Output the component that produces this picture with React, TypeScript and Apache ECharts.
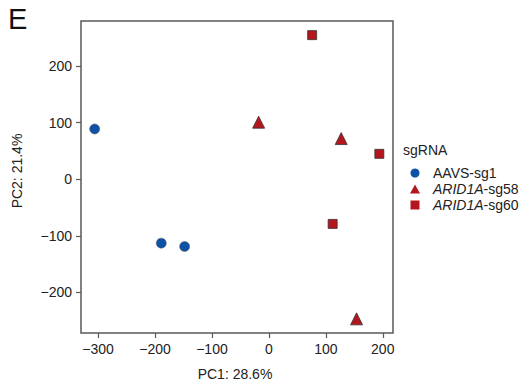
import React, { useEffect, useRef } from "react";
import * as echarts from "echarts";

const groupNames = ["AAVS-sg1", "ARID1A-sg58", "ARID1A-sg60"];
const aavsPC1 = [-306, -189, -148];
const aavsPC2 = [89, -113, -119];
const sg58PC1 = [-18, 127, 154];
const sg58PC2 = [101, 72, -247];
const sg60PC1 = [76, 194, 112];
const sg60PC2 = [255, 45, -79];
const xTicks = [-300, -200, -100, 0, 100, 200];
const yTicks = [-200, -100, 0, 100, 200];

const FONT = "'Liberation Sans', Arial, Helvetica, sans-serif";
const BLUE = "#0d52a5";
const RED = "#b3161c";

function pairs(xs: number[], ys: number[]) {
  return xs.map((x, i) => [x, ys[i]]);
}

export default function App() {
  const ref = useRef<HTMLDivElement>(null);
  useEffect(() => {
    if (!ref.current) return;
    document.body.style.margin = "0";
    const chart = echarts.init(ref.current, undefined, { renderer: "svg" });
    const fmt = (v: number) => (v < 0 ? "\u2212" + Math.abs(v) : String(v));
    chart.setOption({
      animation: false,
      backgroundColor: "#ffffff",
      textStyle: { fontFamily: FONT },
      grid: {
        left: 81,
        top: 21,
        width: 312,
        height: 312,
        show: true,
        borderColor: "#5a5a5a",
        borderWidth: 1.5,
        backgroundColor: "transparent",
      },
      xAxis: {
        type: "value",
        min: -330,
        max: 218,
        axisLine: { show: false, onZero: false },
        splitLine: { show: false },
        axisTick: {
          show: true,
          customValues: xTicks,
          length: 5,
          lineStyle: { color: "#5a5a5a", width: 1.2 },
        },
        axisLabel: {
          customValues: xTicks,
          formatter: fmt,
          fontSize: 14,
          color: "#222",
          margin: 9,
          fontFamily: FONT,
        },
      },
      yAxis: {
        type: "value",
        min: -272,
        max: 280,
        axisLine: { show: false, onZero: false },
        splitLine: { show: false },
        axisTick: {
          show: true,
          customValues: yTicks,
          length: 5,
          lineStyle: { color: "#5a5a5a", width: 1.2 },
        },
        axisLabel: {
          customValues: yTicks,
          formatter: fmt,
          fontSize: 14,
          color: "#222",
          margin: 9,
          fontFamily: FONT,
        },
      },
      legend: {
        left: 405,
        top: 161,
        orient: "vertical",
        itemWidth: 10,
        itemHeight: 9,
        itemGap: 2,
        itemStyle: { borderWidth: 0, opacity: 1 },
        data: [
          { name: groupNames[0], icon: "circle" },
          { name: groupNames[1], icon: "path://M5,0L10,9L0,9Z" },
          { name: groupNames[2], icon: "path://M0,0L10,0L10,10L0,10Z" },
        ],
        formatter: (name: string) =>
          name.startsWith("ARID1A")
            ? "{s| }{i|ARID1A}{n|" + name.slice(6) + "}"
            : "{s| }{n|" + name + "}",
        textStyle: {
          fontSize: 14,
          color: "#222",
          fontFamily: FONT,
          rich: {
            s: { width: 8, fontSize: 14 },
            i: { fontStyle: "italic", fontSize: 14, color: "#222", fontFamily: FONT },
            n: { fontSize: 14, color: "#222", fontFamily: FONT },
          },
        },
      },
      graphic: [
        {
          type: "text",
          left: 8,
          top: 4,
          style: { text: "E", fontSize: 29, fill: "#111", fontFamily: FONT },
        },
        {
          type: "text",
          left: 403,
          top: 143,
          style: { text: "sgRNA", fontSize: 14, fill: "#222", fontFamily: FONT },
        },
        {
          type: "text",
          x: 235,
          y: 374,
          style: {
            text: "PC1: 28.6%",
            fontSize: 14,
            fill: "#222",
            fontFamily: FONT,
            align: "center",
            verticalAlign: "middle",
          },
        },
        {
          type: "text",
          x: 17,
          y: 171,
          rotation: Math.PI / 2,
          style: {
            text: "PC2: 21.4%",
            fontSize: 14,
            fill: "#222",
            fontFamily: FONT,
            align: "center",
            verticalAlign: "middle",
          },
        },
      ],
      series: [
        {
          name: groupNames[0],
          type: "scatter",
          symbol: "circle",
          symbolSize: 10,
          itemStyle: { color: BLUE, borderColor: "#555", borderWidth: 0.5, opacity: 1 },
          data: pairs(aavsPC1, aavsPC2),
        },
        {
          name: groupNames[1],
          type: "scatter",
          symbol: "triangle",
          symbolSize: 12,
          itemStyle: { color: RED, borderColor: "#333", borderWidth: 0.8, opacity: 1 },
          data: pairs(sg58PC1, sg58PC2),
        },
        {
          name: groupNames[2],
          type: "scatter",
          symbol: "rect",
          symbolSize: 9,
          itemStyle: { color: RED, borderColor: "#333", borderWidth: 0.8, opacity: 1 },
          data: pairs(sg60PC1, sg60PC2),
        },
      ],
    });
    return () => chart.dispose();
  }, []);
  return (
    <div
      ref={ref}
      style={{ position: "absolute", left: 0, top: 0, width: 525, height: 383 }}
    />
  );
}
